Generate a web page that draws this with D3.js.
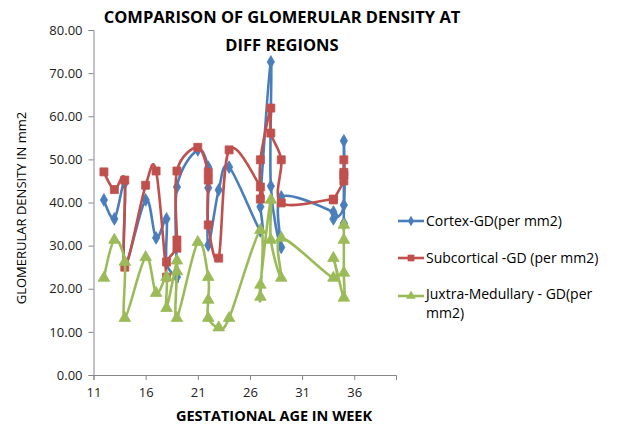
<!DOCTYPE html>
<html><head><meta charset="utf-8">
<script src="https://cdn.jsdelivr.net/npm/d3@7"></script>
<style>body{margin:0;background:#fff}svg{display:block}</style>
</head><body>
<script>
const ages = [12,13,14,14,16,17,18,18,19,19,19,21,22,22,22,23,24,27,27,27,28,28,29,29,34,34,35,35,35,35];
const cortex = [40.6,36.2,44.5,25.5,40.6,31.8,36.2,26.0,22.7,23.5,43.6,52.2,48.2,43.4,30.1,42.9,48.2,33.4,39.0,41.0,72.6,43.8,29.6,41.3,37.8,36.2,39.4,54.3,35.2,35.0];
const subcortical = [47.1,43.0,45.2,25.0,44.0,47.3,22.7,26.2,29.4,31.3,47.3,52.8,47.0,45.2,34.8,27.1,52.2,43.6,40.8,49.9,61.9,56.1,49.9,39.9,40.8,40.6,45.0,46.4,47.0,49.9];
const juxtra = [22.5,31.3,26.2,13.2,27.3,19.0,22.7,15.5,26.5,24.0,13.2,30.8,22.7,17.4,13.2,11.0,13.2,33.6,18.1,20.9,40.6,31.3,22.5,31.8,22.5,27.1,17.9,23.7,31.3,34.8];
const seriesNames = ["Cortex-GD(per mm2)","Subcortical -GD (per mm2)","Juxtra-Medullary - GD(per mm2)"];
const xTicks = [11,16,21,26,31,36];
const yTicks = [0,10,20,30,40,50,60,70,80];

const W=620,H=430;
const svg=d3.select("body").append("svg").attr("width",W).attr("height",H);
const x=d3.scaleLinear().domain([11,40]).range([93.5,396]);
const y=d3.scaleLinear().domain([0,80]).range([375,30]);
const axisColor="#868686";
const font="Open Sans, Liberation Sans, sans-serif";

// axes
const gy=svg.append("g").attr("transform","translate(93.5,0)")
  .call(d3.axisLeft(y).tickValues(yTicks).tickFormat(d3.format(".2f")).tickSize(5).tickPadding(6));
const gx=svg.append("g").attr("transform","translate(0,375)")
  .call(d3.axisBottom(x).tickValues(xTicks).tickFormat(d3.format("d")).tickSize(5).tickPadding(8));
[gx,gy].forEach(g=>{
  g.select(".domain").attr("stroke",axisColor);
  g.selectAll(".tick line").attr("stroke",axisColor);
  g.selectAll(".tick text").attr("fill","#222").style("font-family",font).style("font-size","13px");
});

const colors=["#4A7EBB","#C0504D","#9BBB59"];
const symbols=[d3.symbolDiamond,d3.symbolSquare,d3.symbolTriangle];
const symSize=[46,64,58];
const data=[cortex,subcortical,juxtra];
const line=d3.line().curve(d3.curveCardinal.tension(0)).x(d=>x(d[0])).y(d=>y(d[1]));

data.forEach((vals,i)=>{
  const pts=ages.map((a,k)=>[a,vals[k]]);
  const g=svg.append("g");
  g.append("path").attr("d",line(pts)).attr("fill","none").attr("stroke",colors[i]).attr("stroke-width",2.6).attr("stroke-linejoin","round");
  g.selectAll("path.m").data(pts).join("path").attr("class","m")
    .attr("transform",d=>`translate(${x(d[0])},${y(d[1])})`)
    .attr("d",d3.symbol().type(symbols[i]).size(symSize[i]))
    .attr("fill",colors[i]).attr("stroke",colors[i]).attr("stroke-width",0.8);
});

// title
const title=svg.append("text").attr("text-anchor","middle").style("font-family",font)
  .style("font-weight","bold").style("font-size","16.5px").attr("fill","#000");
title.append("tspan").attr("x",282).attr("y",23).text("COMPARISON OF GLOMERULAR DENSITY  AT");
title.append("tspan").attr("x",282).attr("y",51).text("DIFF REGIONS");

// axis titles
svg.append("text").attr("transform","translate(26,208) rotate(-90)").attr("text-anchor","middle")
  .style("font-family",font).style("font-size","13px").attr("fill","#000").text("GLOMERULAR DENSITY IN mm2");
svg.append("text").attr("x",274).attr("y",421).attr("text-anchor","middle")
  .style("font-family",font).style("font-weight","bold").style("font-size","14.5px").attr("fill","#000").text("GESTATIONAL AGE IN WEEK");

// legend
const legY=[221,258,296];
const legLines=[["Cortex-GD(per mm2)"],["Subcortical -GD (per mm2)"],["Juxtra-Medullary - GD(per","mm2)"]];
legY.forEach((ly,i)=>{
  const g=svg.append("g");
  g.append("line").attr("x1",398).attr("x2",424).attr("y1",ly).attr("y2",ly).attr("stroke",colors[i]).attr("stroke-width",2.6);
  g.append("path").attr("transform",`translate(411,${ly})`).attr("d",d3.symbol().type(symbols[i]).size(symSize[i]*0.7)).attr("fill",colors[i]);
  const base = legLines[i].length>1 ? ly+3 : ly+5;
  legLines[i].forEach((s,j)=>g.append("text").attr("x",426).attr("y",base+j*19)
    .style("font-family",font).style("font-size","14px").attr("fill","#000").text(s));
});
</script>
</body></html>
